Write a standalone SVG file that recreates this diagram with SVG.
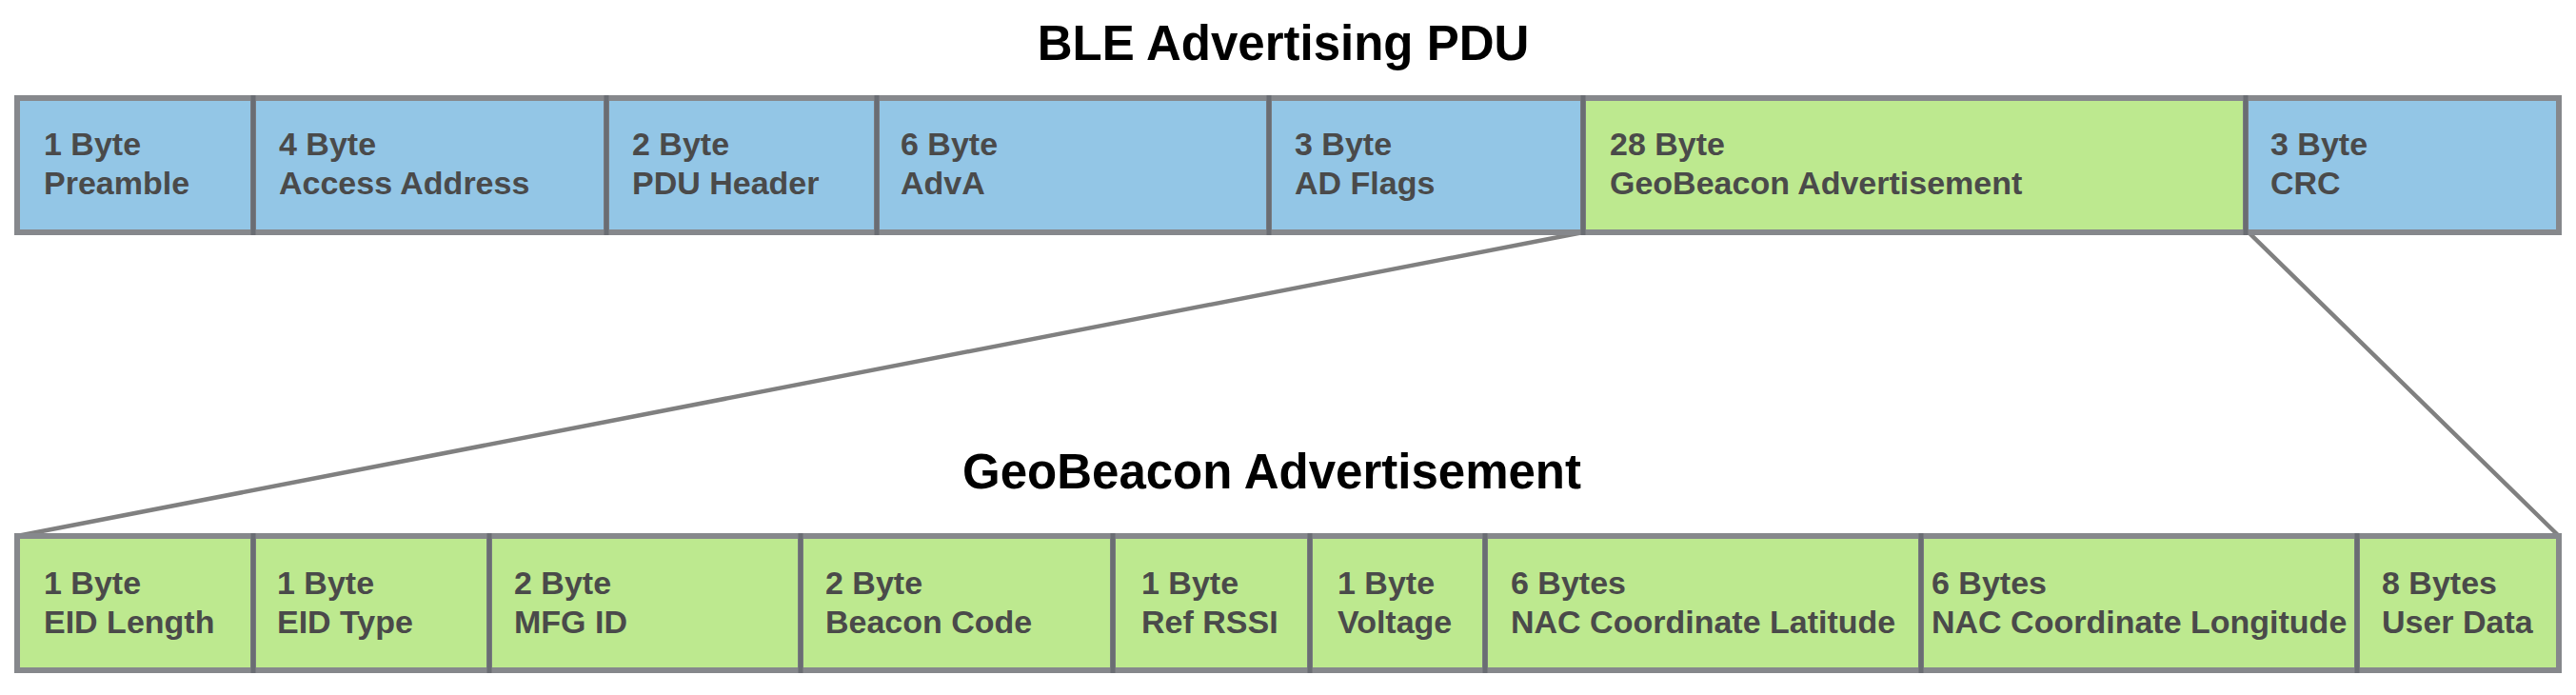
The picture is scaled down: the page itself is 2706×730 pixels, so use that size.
<svg xmlns="http://www.w3.org/2000/svg" width="2706" height="730" viewBox="0 0 2706 730">
<style>
.title{font-family:"Liberation Sans",Arial,sans-serif;font-weight:bold;font-size:51px;fill:#000;text-anchor:middle}
.lbl{font-family:"Liberation Sans",Arial,sans-serif;font-weight:bold;font-size:34px;fill:#4a4a4a}
.blue{fill:#93c6e6;stroke:#86888c;stroke-width:6}
.green{fill:#bde98f;stroke:#86888c;stroke-width:6}
.div{stroke:#6a6d73;stroke-width:5}
.conn{stroke:#808080;stroke-width:4.5;fill:none;stroke-linecap:round}
</style>
<rect width="2706" height="730" fill="#fff"/>
<text class="title" x="1348" y="63">BLE Advertising PDU</text>
<text class="title" x="1336" y="513">GeoBeacon Advertisement</text>

<g id="connectors">
<line class="conn" x1="1663" y1="244" x2="18" y2="563"/>
<line class="conn" x1="2362" y1="244" x2="2688" y2="563"/>
</g>

<g id="pdu">
<g id="preamble"><rect class="blue" x="18" y="103" width="248" height="141"/><text class="lbl" x="46" y="163">1 Byte</text><text class="lbl" x="46" y="204">Preamble</text></g>
<g id="access"><rect class="blue" x="266" y="103" width="371" height="141"/><text class="lbl" x="293" y="163">4 Byte</text><text class="lbl" x="293" y="204">Access Address</text></g>
<g id="pduheader"><rect class="blue" x="637" y="103" width="284" height="141"/><text class="lbl" x="664" y="163">2 Byte</text><text class="lbl" x="664" y="204">PDU Header</text></g>
<g id="adva"><rect class="blue" x="921" y="103" width="412" height="141"/><text class="lbl" x="946" y="163">6 Byte</text><text class="lbl" x="946" y="204">AdvA</text></g>
<g id="adflags"><rect class="blue" x="1333" y="103" width="330" height="141"/><text class="lbl" x="1360" y="163">3 Byte</text><text class="lbl" x="1360" y="204">AD Flags</text></g>
<g id="geoadv"><rect class="green" x="1663" y="103" width="696" height="141"/><text class="lbl" x="1691" y="163">28 Byte</text><text class="lbl" x="1691" y="204">GeoBeacon Advertisement</text></g>
<g id="crc"><rect class="blue" x="2359" y="103" width="329" height="141"/><text class="lbl" x="2385" y="163">3 Byte</text><text class="lbl" x="2385" y="204">CRC</text></g>
</g>

<g id="geo">
<g id="eidlen"><rect class="green" x="18" y="563" width="248" height="141"/><text class="lbl" x="46" y="624">1 Byte</text><text class="lbl" x="46" y="665">EID Length</text></g>
<g id="eidtype"><rect class="green" x="266" y="563" width="248" height="141"/><text class="lbl" x="291" y="624">1 Byte</text><text class="lbl" x="291" y="665">EID Type</text></g>
<g id="mfg"><rect class="green" x="514" y="563" width="327" height="141"/><text class="lbl" x="540" y="624">2 Byte</text><text class="lbl" x="540" y="665">MFG ID</text></g>
<g id="beacon"><rect class="green" x="841" y="563" width="328" height="141"/><text class="lbl" x="867" y="624">2 Byte</text><text class="lbl" x="867" y="665">Beacon Code</text></g>
<g id="rssi"><rect class="green" x="1169" y="563" width="207" height="141"/><text class="lbl" x="1199" y="624">1 Byte</text><text class="lbl" x="1199" y="665">Ref RSSI</text></g>
<g id="voltage"><rect class="green" x="1376" y="563" width="184" height="141"/><text class="lbl" x="1405" y="624">1 Byte</text><text class="lbl" x="1405" y="665">Voltage</text></g>
<g id="lat"><rect class="green" x="1560" y="563" width="458" height="141"/><text class="lbl" x="1587" y="624">6 Bytes</text><text class="lbl" x="1587" y="665">NAC Coordinate Latitude</text></g>
<g id="lon"><rect class="green" x="2018" y="563" width="458" height="141"/><text class="lbl" x="2029" y="624">6 Bytes</text><text class="lbl" x="2029" y="665">NAC Coordinate Longitude</text></g>
<g id="user"><rect class="green" x="2476" y="563" width="212" height="141"/><text class="lbl" x="2502" y="624">8 Bytes</text><text class="lbl" x="2502" y="665">User Data</text></g>
</g>

<g id="dividers">
<line class="div" x1="266" y1="100" x2="266" y2="247"/>
<line class="div" x1="637" y1="100" x2="637" y2="247"/>
<line class="div" x1="921" y1="100" x2="921" y2="247"/>
<line class="div" x1="1333" y1="100" x2="1333" y2="247"/>
<line class="div" x1="1663" y1="100" x2="1663" y2="247"/>
<line class="div" x1="2359" y1="100" x2="2359" y2="247"/>
<line class="div" x1="266" y1="560" x2="266" y2="707"/>
<line class="div" x1="514" y1="560" x2="514" y2="707"/>
<line class="div" x1="841" y1="560" x2="841" y2="707"/>
<line class="div" x1="1169" y1="560" x2="1169" y2="707"/>
<line class="div" x1="1376" y1="560" x2="1376" y2="707"/>
<line class="div" x1="1560" y1="560" x2="1560" y2="707"/>
<line class="div" x1="2018" y1="560" x2="2018" y2="707"/>
<line class="div" x1="2476" y1="560" x2="2476" y2="707"/>
</g>
</svg>
